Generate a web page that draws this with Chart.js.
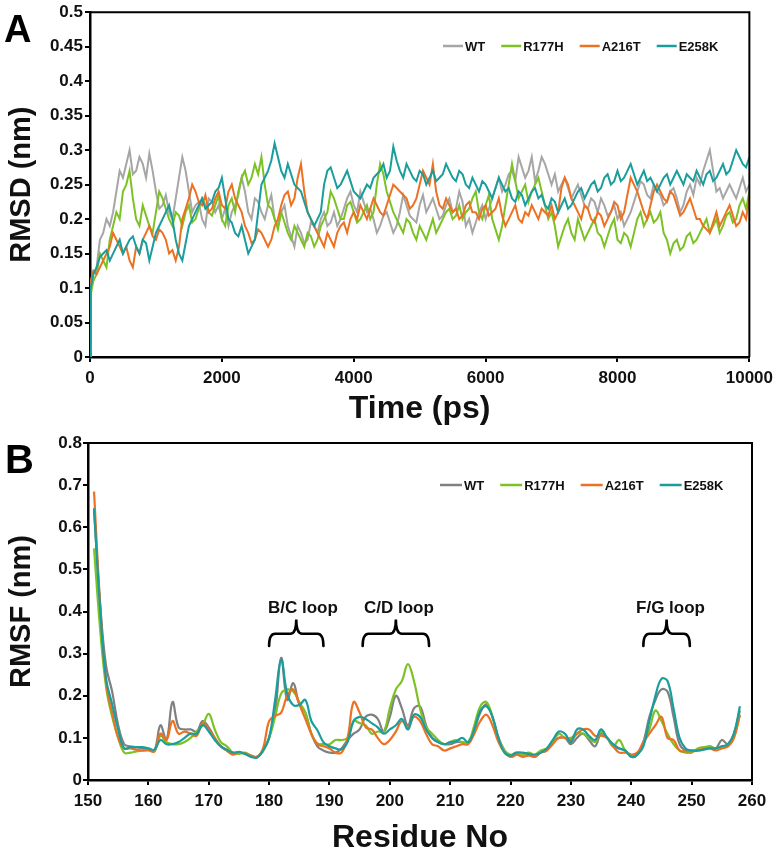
<!DOCTYPE html>
<html><head><meta charset="utf-8">
<script src="https://cdn.jsdelivr.net/npm/chart.js@4.4.1/dist/chart.umd.min.js"></script>
<style>
html,body{margin:0;padding:0;background:#fff;}
#wrap{position:relative;width:779px;height:853px;overflow:hidden;background:#fff;}
#cA{position:absolute;left:0;top:0;}
#cB{position:absolute;left:0;top:425px;}
</style></head><body>
<div id="wrap">
<canvas id="cA" width="779" height="430"></canvas>
<canvas id="cB" width="779" height="433"></canvas>
</div>
<script>
// ---------- Panel A data: RMSD vs time (ps) ----------
const timePs = [0,10,
 50,100,150,200,250,300,350,400,450,500,550,600,650,700,750,800,850,900,950,1000,
 1050,1100,1150,1200,1250,1300,1350,1400,1450,1500,1550,1600,1650,1700,1750,1800,1850,1900,1950,2000,
 2050,2100,2150,2200,2250,2300,2350,2400,2450,2500,2550,2600,2650,2700,2750,2800,2850,2900,2950,3000,
 3050,3100,3150,3200,3250,3300,3350,3400,3450,3500,3550,3600,3650,3700,3750,3800,3850,3900,3950,4000,
 4050,4100,4150,4200,4250,4300,4350,4400,4450,4500,4550,4600,4650,4700,4750,4800,4850,4900,4950,5000,
 5050,5100,5150,5200,5250,5300,5350,5400,5450,5500,5550,5600,5650,5700,5750,5800,5850,5900,5950,6000,
 6050,6100,6150,6200,6250,6300,6350,6400,6450,6500,6550,6600,6650,6700,6750,6800,6850,6900,6950,7000,
 7050,7100,7150,7200,7250,7300,7350,7400,7450,7500,7550,7600,7650,7700,7750,7800,7850,7900,7950,8000,
 8050,8100,8150,8200,8250,8300,8350,8400,8450,8500,8550,8600,8650,8700,8750,8800,8850,8900,8950,9000,
 9050,9100,9150,9200,9250,9300,9350,9400,9450,9500,9550,9600,9650,9700,9750,9800,9850,9900,9950,10000];
const rmsdWT = [0,0.10,
 0.12,0.13,0.17,0.18,0.20,0.19,0.21,0.24,0.27,0.26,0.28,0.30,0.265,0.27,0.29,0.28,0.26,0.295,0.27,0.24,
 0.215,0.22,0.235,0.21,0.20,0.23,0.26,0.29,0.27,0.24,0.21,0.22,0.225,0.20,0.19,0.23,0.225,0.21,0.22,0.20,
 0.215,0.19,0.21,0.22,0.235,0.26,0.24,0.21,0.20,0.23,0.225,0.21,0.20,0.22,0.235,0.20,0.19,0.21,0.22,0.19,
 0.175,0.16,0.19,0.18,0.165,0.17,0.195,0.19,0.18,0.20,0.21,0.19,0.195,0.21,0.19,0.20,0.215,0.23,0.24,0.22,
 0.21,0.24,0.225,0.21,0.215,0.20,0.18,0.19,0.205,0.21,0.195,0.18,0.19,0.21,0.235,0.22,0.205,0.20,0.195,0.22,
 0.235,0.21,0.22,0.23,0.215,0.20,0.205,0.22,0.23,0.21,0.215,0.24,0.225,0.19,0.20,0.18,0.195,0.21,0.22,0.20,
 0.215,0.23,0.245,0.26,0.24,0.25,0.265,0.27,0.255,0.29,0.275,0.26,0.27,0.29,0.255,0.27,0.29,0.28,0.265,0.25,
 0.265,0.24,0.25,0.26,0.245,0.23,0.24,0.25,0.235,0.22,0.215,0.23,0.225,0.21,0.23,0.22,0.205,0.21,0.22,0.20,
 0.21,0.19,0.20,0.21,0.225,0.24,0.255,0.25,0.235,0.23,0.25,0.24,0.235,0.22,0.225,0.24,0.245,0.23,0.21,0.22,
 0.24,0.25,0.235,0.26,0.25,0.27,0.285,0.30,0.27,0.24,0.245,0.23,0.24,0.25,0.24,0.23,0.245,0.26,0.24,0.25];
const rmsdR177H = [0,0.09,
 0.11,0.12,0.15,0.14,0.13,0.17,0.19,0.21,0.20,0.24,0.25,0.27,0.23,0.20,0.19,0.22,0.205,0.19,0.18,0.21,
 0.24,0.23,0.215,0.20,0.19,0.21,0.205,0.19,0.21,0.22,0.195,0.20,0.215,0.23,0.22,0.21,0.205,0.22,0.235,0.20,
 0.19,0.22,0.23,0.21,0.24,0.26,0.27,0.25,0.26,0.28,0.265,0.29,0.25,0.22,0.215,0.20,0.185,0.21,0.195,0.18,
 0.17,0.19,0.18,0.17,0.16,0.18,0.175,0.16,0.17,0.19,0.20,0.21,0.24,0.23,0.215,0.20,0.20,0.22,0.225,0.21,
 0.195,0.20,0.21,0.22,0.20,0.21,0.25,0.28,0.265,0.24,0.225,0.21,0.20,0.19,0.18,0.20,0.195,0.18,0.17,0.19,
 0.18,0.17,0.185,0.20,0.18,0.19,0.20,0.21,0.215,0.20,0.205,0.22,0.20,0.21,0.215,0.23,0.24,0.21,0.20,0.22,
 0.235,0.20,0.185,0.17,0.19,0.22,0.25,0.28,0.255,0.23,0.24,0.25,0.225,0.24,0.25,0.26,0.24,0.22,0.20,0.21,
 0.19,0.16,0.175,0.19,0.20,0.18,0.17,0.20,0.185,0.17,0.18,0.19,0.20,0.18,0.175,0.16,0.175,0.19,0.20,0.17,
 0.165,0.18,0.175,0.16,0.18,0.20,0.21,0.19,0.20,0.21,0.195,0.20,0.21,0.18,0.17,0.15,0.165,0.17,0.155,0.16,
 0.175,0.18,0.165,0.17,0.18,0.19,0.20,0.18,0.19,0.20,0.18,0.19,0.205,0.21,0.195,0.20,0.22,0.23,0.215,0.24];
const rmsdA216T = [0.02,0.11,
 0.125,0.12,0.13,0.14,0.15,0.16,0.18,0.17,0.16,0.15,0.16,0.14,0.13,0.16,0.15,0.17,0.18,0.19,0.175,0.17,
 0.185,0.18,0.17,0.15,0.155,0.14,0.16,0.20,0.215,0.23,0.25,0.24,0.225,0.22,0.235,0.21,0.215,0.23,0.24,0.22,
 0.215,0.24,0.25,0.23,0.22,0.21,0.19,0.18,0.165,0.17,0.185,0.18,0.17,0.16,0.17,0.19,0.20,0.22,0.235,0.24,
 0.22,0.23,0.26,0.28,0.24,0.21,0.20,0.19,0.18,0.17,0.16,0.18,0.17,0.16,0.18,0.19,0.195,0.18,0.20,0.21,
 0.20,0.22,0.21,0.20,0.215,0.23,0.22,0.21,0.205,0.22,0.235,0.25,0.245,0.24,0.235,0.23,0.215,0.22,0.23,0.25,
 0.27,0.26,0.25,0.28,0.24,0.22,0.215,0.23,0.22,0.21,0.215,0.20,0.205,0.22,0.225,0.21,0.21,0.20,0.215,0.22,
 0.205,0.21,0.215,0.23,0.205,0.19,0.20,0.21,0.22,0.20,0.195,0.21,0.205,0.22,0.21,0.20,0.215,0.21,0.205,0.22,
 0.20,0.21,0.245,0.26,0.25,0.23,0.22,0.21,0.20,0.22,0.215,0.20,0.195,0.21,0.205,0.19,0.20,0.21,0.225,0.22,
 0.20,0.21,0.235,0.26,0.25,0.24,0.225,0.21,0.20,0.22,0.24,0.25,0.24,0.23,0.225,0.24,0.235,0.22,0.205,0.21,
 0.22,0.23,0.215,0.20,0.20,0.19,0.185,0.18,0.195,0.21,0.19,0.20,0.21,0.22,0.205,0.19,0.195,0.21,0.20,0.23];
const rmsdE258K = [0,0.10,
 0.12,0.13,0.145,0.15,0.155,0.14,0.15,0.16,0.17,0.15,0.16,0.17,0.175,0.16,0.15,0.17,0.165,0.14,0.16,0.18,
 0.19,0.20,0.21,0.22,0.20,0.17,0.15,0.14,0.165,0.19,0.20,0.21,0.22,0.23,0.215,0.22,0.225,0.24,0.245,0.26,
 0.23,0.20,0.195,0.18,0.175,0.19,0.17,0.15,0.16,0.17,0.21,0.25,0.26,0.27,0.285,0.31,0.29,0.27,0.26,0.28,
 0.265,0.25,0.245,0.24,0.225,0.21,0.20,0.19,0.20,0.21,0.25,0.27,0.275,0.26,0.245,0.25,0.26,0.27,0.255,0.24,
 0.235,0.23,0.24,0.25,0.245,0.26,0.265,0.27,0.28,0.26,0.27,0.305,0.285,0.27,0.26,0.28,0.27,0.26,0.255,0.27,
 0.265,0.25,0.26,0.27,0.255,0.26,0.265,0.28,0.27,0.26,0.255,0.27,0.265,0.25,0.245,0.26,0.25,0.24,0.255,0.25,
 0.24,0.23,0.245,0.26,0.25,0.24,0.245,0.23,0.225,0.24,0.235,0.22,0.23,0.24,0.245,0.23,0.235,0.22,0.215,0.23,
 0.225,0.21,0.22,0.23,0.215,0.22,0.23,0.24,0.245,0.23,0.24,0.25,0.255,0.24,0.245,0.26,0.265,0.25,0.255,0.27,
 0.255,0.26,0.27,0.28,0.265,0.25,0.26,0.27,0.255,0.26,0.25,0.24,0.25,0.26,0.265,0.25,0.26,0.27,0.26,0.25,
 0.265,0.26,0.255,0.27,0.26,0.25,0.265,0.27,0.255,0.26,0.27,0.28,0.265,0.27,0.285,0.30,0.29,0.28,0.275,0.29];

// ---------- Panel B data: RMSF vs residue ----------
const residues = [151,152,153,154,155,156,157,158,159,160,
 161,162,163,164,165,166,167,168,169,170,
 171,172,173,174,175,176,177,178,179,180,
 181,182,183,184,185,186,187,188,189,190,
 191,192,193,194,195,196,197,198,199,200,
 201,202,203,204,205,206,207,208,209,210,
 211,212,213,214,215,216,217,218,219,220,
 221,222,223,224,225,226,227,228,229,230,
 231,232,233,234,235,236,237,238,239,240,
 241,242,243,244,245,246,247,248,249,250,
 251,252,253,254,255,256,257,258];
const rmsfWT = [0.64,0.42,0.27,0.21,0.13,0.085,0.08,0.078,0.075,0.072,
 0.07,0.13,0.095,0.185,0.125,0.12,0.12,0.115,0.14,0.125,
 0.10,0.08,0.07,0.062,0.065,0.063,0.057,0.055,0.07,0.10,
 0.16,0.29,0.19,0.23,0.18,0.16,0.11,0.08,0.07,0.065,
 0.065,0.075,0.095,0.11,0.12,0.15,0.155,0.145,0.115,0.15,
 0.20,0.17,0.13,0.17,0.175,0.13,0.10,0.09,0.085,0.085,
 0.09,0.09,0.09,0.12,0.16,0.18,0.15,0.10,0.07,0.055,
 0.06,0.06,0.06,0.055,0.065,0.07,0.09,0.10,0.10,0.085,
 0.10,0.11,0.095,0.08,0.11,0.10,0.08,0.075,0.07,0.055,
 0.06,0.09,0.15,0.19,0.215,0.21,0.15,0.085,0.07,0.07,
 0.07,0.073,0.08,0.075,0.095,0.085,0.11,0.165];
const rmsfR177H = [0.55,0.36,0.22,0.15,0.10,0.065,0.065,0.068,0.07,0.072,
 0.068,0.105,0.09,0.085,0.085,0.09,0.10,0.115,0.13,0.157,
 0.12,0.09,0.08,0.065,0.062,0.065,0.058,0.055,0.068,0.10,
 0.15,0.205,0.215,0.21,0.185,0.16,0.11,0.087,0.085,0.085,
 0.095,0.095,0.10,0.14,0.135,0.13,0.11,0.115,0.115,0.17,
 0.215,0.235,0.275,0.235,0.17,0.125,0.11,0.095,0.085,0.09,
 0.095,0.09,0.09,0.13,0.175,0.185,0.15,0.10,0.07,0.06,
 0.065,0.06,0.065,0.06,0.07,0.075,0.09,0.11,0.10,0.10,
 0.11,0.11,0.10,0.09,0.115,0.10,0.08,0.095,0.07,0.06,
 0.06,0.09,0.12,0.165,0.14,0.11,0.085,0.07,0.065,0.065,
 0.075,0.078,0.08,0.075,0.08,0.08,0.10,0.155];
const rmsfA216T = [0.685,0.42,0.23,0.16,0.10,0.075,0.075,0.072,0.07,0.07,
 0.068,0.11,0.095,0.14,0.11,0.115,0.11,0.105,0.135,0.12,
 0.10,0.08,0.07,0.06,0.065,0.063,0.058,0.055,0.075,0.14,
 0.152,0.16,0.20,0.215,0.18,0.145,0.11,0.085,0.08,0.075,
 0.065,0.065,0.10,0.185,0.16,0.125,0.12,0.10,0.085,0.095,
 0.115,0.14,0.125,0.15,0.14,0.11,0.085,0.08,0.07,0.075,
 0.08,0.085,0.085,0.11,0.14,0.155,0.13,0.09,0.065,0.055,
 0.06,0.055,0.058,0.055,0.065,0.07,0.085,0.10,0.10,0.095,
 0.11,0.12,0.12,0.105,0.105,0.10,0.08,0.065,0.065,0.06,
 0.065,0.09,0.11,0.13,0.15,0.10,0.095,0.07,0.068,0.068,
 0.07,0.075,0.075,0.07,0.075,0.08,0.10,0.155];
const rmsfE258K = [0.645,0.41,0.24,0.18,0.12,0.075,0.078,0.078,0.078,0.075,
 0.072,0.095,0.085,0.085,0.09,0.10,0.11,0.11,0.13,0.115,
 0.095,0.08,0.072,0.065,0.067,0.062,0.055,0.053,0.07,0.10,
 0.19,0.285,0.205,0.178,0.178,0.19,0.14,0.118,0.09,0.08,
 0.075,0.073,0.09,0.14,0.15,0.145,0.135,0.125,0.11,0.12,
 0.13,0.145,0.12,0.155,0.15,0.12,0.10,0.09,0.085,0.09,
 0.092,0.10,0.09,0.12,0.165,0.175,0.15,0.10,0.065,0.058,
 0.065,0.065,0.062,0.06,0.065,0.075,0.095,0.115,0.11,0.09,
 0.12,0.12,0.105,0.095,0.12,0.10,0.085,0.075,0.07,0.055,
 0.06,0.08,0.14,0.20,0.24,0.235,0.17,0.10,0.075,0.07,
 0.07,0.072,0.075,0.075,0.08,0.085,0.11,0.175];

const seriesNames = ['WT','R177H','A216T','E258K'];
const loopNames = ['B/C loop','C/D loop','F/G loop'];
const loopStart = [180, 195.5, 242];
const loopEnd = [189, 206.5, 249.7];
const loopLabelAt = [185.6, 201.5, 246.5];

// ---------- styling ----------
const FONT = '"Liberation Sans", Arial, Helvetica, sans-serif';
Chart.defaults.font.family = FONT;
Chart.defaults.font.weight = 'bold';
Chart.defaults.color = '#111';
const colorsA = ['#a6a6a6','#7cc225','#ec7123','#1a9d9d'];
const colorsB = ['#808080','#7cc225','#ec7123','#1a9d9d'];

function pairs(xs, ys){ return xs.map((x,i)=>({x:x, y:ys[i]})); }

const framePlugin = {
  id:'frame',
  afterDatasetsDraw(chart){
    const {ctx, chartArea:a} = chart;
    ctx.save(); ctx.strokeStyle='#000'; ctx.lineWidth=2;
    ctx.beginPath(); ctx.moveTo(a.left, a.top); ctx.lineTo(a.right, a.top); ctx.lineTo(a.right, a.bottom); ctx.stroke();
    ctx.restore();
  }
};
function inLegend(x0, y0, lineLen){
  return { id:'inLegend', afterDraw(chart){
    const ctx = chart.ctx; ctx.save();
    ctx.font = 'bold 13px ' + FONT; ctx.textBaseline='middle'; ctx.textAlign='left';
    let x = x0;
    chart.data.datasets.forEach(ds=>{
      ctx.strokeStyle = ds.borderColor; ctx.lineWidth = 2.5;
      ctx.beginPath(); ctx.moveTo(x, y0); ctx.lineTo(x+lineLen, y0); ctx.stroke();
      x += lineLen + 2;
      ctx.fillStyle = '#111'; ctx.fillText(ds.label, x, y0+1);
      x += ctx.measureText(ds.label).width + 16;
    });
    ctx.restore();
  }};
}
function panelLetter(letter, x, y, size){
  return { id:'panel'+letter, afterDraw(chart){
    const ctx = chart.ctx; ctx.save();
    ctx.font = 'bold '+size+'px ' + FONT; ctx.fillStyle='#000'; ctx.textBaseline='alphabetic';
    ctx.fillText(letter, x, y); ctx.restore();
  }};
}
const loopPlugin = {
  id:'loops',
  afterDraw(chart){
    const {ctx, scales:{x, y}} = chart;
    ctx.save();
    ctx.strokeStyle='#000'; ctx.lineWidth=2.6; ctx.lineCap='round';
    ctx.font='bold 17px ' + FONT; ctx.fillStyle='#111'; ctx.textAlign='center'; ctx.textBaseline='alphabetic';
    loopNames.forEach((name,i)=>{
      const x1 = x.getPixelForValue(loopStart[i]), x2 = x.getPixelForValue(loopEnd[i]);
      const yTip = y.getPixelForValue(0.381), yBot = y.getPixelForValue(0.318);
      const yMid = (yTip + yBot)/2 + 1;
      const xm = (x1 + x2)/2, r = 6;
      ctx.beginPath();
      ctx.moveTo(x1, yBot);
      ctx.quadraticCurveTo(x1, yMid, x1 + r, yMid);
      ctx.lineTo(xm - r, yMid);
      ctx.quadraticCurveTo(xm, yMid, xm, yTip);
      ctx.quadraticCurveTo(xm, yMid, xm + r, yMid);
      ctx.lineTo(x2 - r, yMid);
      ctx.quadraticCurveTo(x2, yMid, x2, yBot);
      ctx.stroke();
      ctx.fillText(name, x.getPixelForValue(loopLabelAt[i]), y.getPixelForValue(0.397));
    });
    ctx.restore();
  }
};

function axisCommon(extra){
  return Object.assign({
    grid:{display:true, drawOnChartArea:false, drawTicks:true, tickLength:5, color:'#000', lineWidth:2},
    border:{display:true, color:'#000', width:2.5}
  }, extra);
}

// ---------- Chart A ----------
const rmsdSets = [rmsdWT, rmsdR177H, rmsdA216T, rmsdE258K];
new Chart(document.getElementById('cA'), {
  type:'line',
  data:{ datasets: seriesNames.map((n,i)=>({
    label:n, data:pairs(timePs, rmsdSets[i]), borderColor:colorsA[i], backgroundColor:colorsA[i],
    borderWidth:2, pointRadius:0, tension:0, order:3-i
  })) },
  options:{
    responsive:false, animation:false, events:[],
    layout:{padding:{left:0, top:12, right:28, bottom:0}},
    plugins:{legend:{display:false}, tooltip:{enabled:false}},
    scales:{
      x: axisCommon({ type:'linear', min:0, max:10000,
        ticks:{stepSize:2000, font:{size:17, weight:'bold'}, padding:6, maxRotation:0, color:'#111', callback:v=>String(v)},
        title:{display:true, text:'Time (ps)', font:{size:32, weight:'bold'}, color:'#111', padding:{top:0, bottom:2}},
        afterFit(s){ s.height = 73; } }),
      y: axisCommon({ min:0, max:0.5,
        ticks:{stepSize:0.05, font:{size:17, weight:'bold'}, padding:2, color:'#111', callback:v=>String(+v.toFixed(2))},
        title:{display:true, text:'RMSD (nm)', font:{size:29, weight:'bold'}, color:'#111', padding:{top:5, bottom:0}},
        afterFit(s){ s.width = 90; } })
    }
  },
  plugins:[framePlugin, inLegend(443, 46, 20), panelLetter('A', 4, 42, 38)]
});

// ---------- Chart B ----------
const rmsfSets = [rmsfWT, rmsfR177H, rmsfA216T, rmsfE258K];
new Chart(document.getElementById('cB'), {
  type:'line',
  data:{ datasets: seriesNames.map((n,i)=>({
    label:n, data:pairs(residues, rmsfSets[i]), borderColor:colorsB[i], backgroundColor:colorsB[i],
    borderWidth:2.2, pointRadius:0, tension:0.4, order:3-i
  })) },
  options:{
    responsive:false, animation:false, events:[],
    layout:{padding:{left:0, top:18, right:27, bottom:0}},
    plugins:{legend:{display:false}, tooltip:{enabled:false}},
    scales:{
      x: axisCommon({ type:'linear', min:150, max:260,
        ticks:{stepSize:10, font:{size:17, weight:'bold'}, padding:6, maxRotation:0, color:'#111', callback:v=>String(v)},
        title:{display:true, text:'Residue No', font:{size:32, weight:'bold'}, color:'#111', padding:{top:0, bottom:1}},
        afterFit(s){ s.height = 78; } }),
      y: axisCommon({ min:0, max:0.8,
        ticks:{stepSize:0.1, font:{size:17, weight:'bold'}, padding:1, color:'#111', callback:v=>String(+v.toFixed(1))},
        title:{display:true, text:'RMSF (nm)', font:{size:29, weight:'bold'}, color:'#111', padding:{top:5, bottom:0}},
        afterFit(s){ s.width = 88; } })
    }
  },
  plugins:[framePlugin, inLegend(440, 60, 22), loopPlugin, panelLetter('B', 5, 48, 40)]
});
</script>
</body></html>
